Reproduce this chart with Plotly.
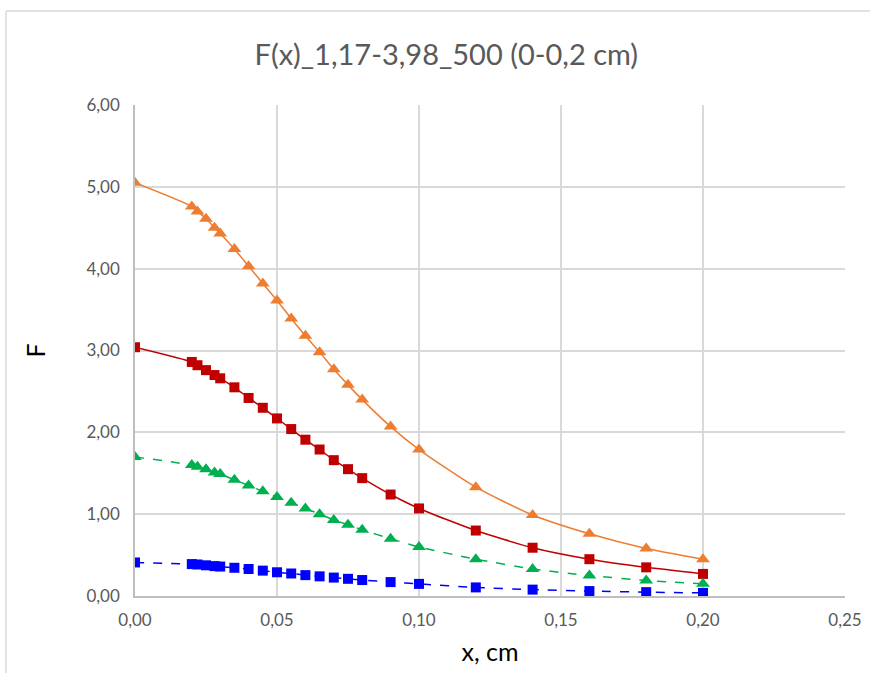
import plotly.graph_objects as go

x = [0.0, 0.02, 0.022, 0.025, 0.028, 0.03, 0.035, 0.04, 0.045, 0.05, 0.055, 0.06,
     0.065, 0.07, 0.075, 0.08, 0.09, 0.10, 0.12, 0.14, 0.16, 0.18, 0.20]

f_orange = [5.05, 4.76, 4.70, 4.61, 4.50, 4.43, 4.24, 4.03, 3.82, 3.61, 3.39, 3.18,
            2.98, 2.77, 2.58, 2.40, 2.07, 1.79, 1.33, 0.99, 0.76, 0.58, 0.45]
f_red = [3.04, 2.86, 2.82, 2.76, 2.70, 2.66, 2.55, 2.42, 2.30, 2.17, 2.04, 1.91,
         1.79, 1.66, 1.55, 1.44, 1.24, 1.07, 0.80, 0.59, 0.45, 0.35, 0.27]
f_green = [1.70, 1.60, 1.58, 1.55, 1.51, 1.49, 1.42, 1.35, 1.28, 1.21, 1.14, 1.07,
           1.00, 0.93, 0.87, 0.81, 0.70, 0.60, 0.45, 0.33, 0.25, 0.19, 0.15]
f_blue = [0.41, 0.39, 0.385, 0.375, 0.365, 0.36, 0.345, 0.33, 0.31, 0.29, 0.275, 0.255,
          0.24, 0.225, 0.21, 0.195, 0.17, 0.148, 0.105, 0.078, 0.06, 0.047, 0.038]

x_ticks = [0.0, 0.05, 0.10, 0.15, 0.20, 0.25]
y_ticks = [0, 1, 2, 3, 4, 5, 6]

font_family = "Lato, sans-serif"

series = [
    (f_orange, "#ED7D31", "solid", "triangle-up", 12),
    (f_red, "#C00000", "solid", "square", 10),
    (f_green, "#00B050", "dash", "triangle-up", 12),
    (f_blue, "#0000FF", "dash", "square", 10),
]

fig = go.Figure()
for vals, color, dash, sym, size in series:
    fig.add_trace(go.Scatter(
        x=x, y=vals, mode="lines+markers",
        line=dict(color=color, width=1.5, dash=dash, shape="spline", smoothing=0.6),
        marker=dict(symbol=sym, size=size, color=color),
        showlegend=False,
    ))

grid = "#D9D9D9"
fig.update_layout(
    width=870, height=673,
    margin=dict(l=135, r=25, t=105, b=77, autoexpand=False),
    paper_bgcolor="white", plot_bgcolor="white",
    separators=", ",
    font=dict(family=font_family, color="#595959"),
    title=dict(text="F(x)_1,17-3,98_500 (0-0,2 cm)", x=0.513, xref="container",
               y=0.918, yref="container", xanchor="center", yanchor="middle",
               font=dict(size=29, color="#595959", family=font_family)),
    xaxis=dict(range=[0, 0.25], tickvals=x_ticks, tickformat=".2f", automargin=False,
               showgrid=True, gridcolor=grid, gridwidth=1.5,
               showline=True, linecolor="#BFBFBF", linewidth=1.5,
               zeroline=False, ticks="outside", ticklen=8, tickcolor="rgba(0,0,0,0)",
               tickfont=dict(size=17, color="#595959"),
               title=dict(text="x, cm", font=dict(size=25, color="#000000"), standoff=14)),
    yaxis=dict(range=[0, 6], tickvals=y_ticks, tickformat=".2f", automargin=False,
               showgrid=True, gridcolor=grid, gridwidth=1.5,
               showline=True, linecolor="#BFBFBF", linewidth=1.5,
               zeroline=False, ticks="outside", ticklen=10, tickcolor="rgba(0,0,0,0)",
               tickfont=dict(size=17, color="#595959"),
               title=dict(text="F", font=dict(size=25, color="#000000"), standoff=34)),
)

fig.add_shape(type="line", xref="paper", yref="paper", x0=-0.1817, x1=-0.1817,
              y0=-0.2, y1=1.1914, line=dict(color="#D9D9D9", width=1.5))
fig.add_shape(type="line", xref="paper", yref="paper", x0=-0.1817, x1=1.2,
              y0=1.1914, y1=1.1914, line=dict(color="#D9D9D9", width=1.5))

fig.write_html("out.html")
